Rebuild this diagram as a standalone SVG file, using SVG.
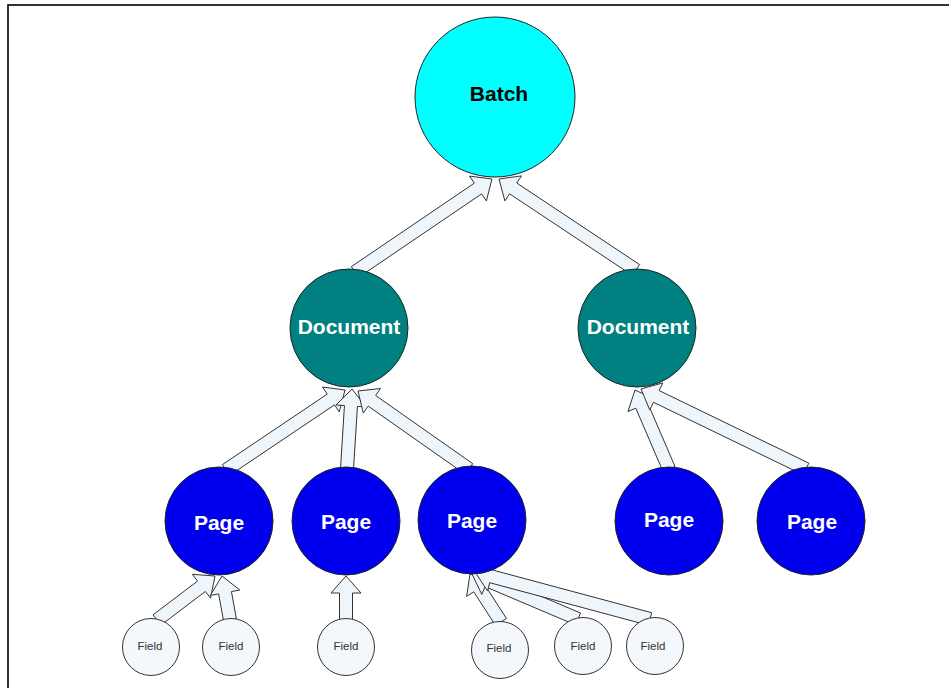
<svg xmlns="http://www.w3.org/2000/svg" width="949" height="688" viewBox="0 0 949 688">
<style>
.frame{fill:#fff;stroke:#000;stroke-width:1.6}
.arr{fill:#eef5fb;stroke:#333;stroke-width:1}
.n{stroke:#222;stroke-width:1}
.batch{fill:#00ffff}
.doc{fill:#008080}
.page{fill:#0000ee}
.field{fill:#f4f7fb;stroke:#333;stroke-width:1}
.t{font-family:"Liberation Sans",Arial,sans-serif;font-weight:bold;text-anchor:middle;dominant-baseline:central}
.tw{fill:#fff;font-size:21px}
.tb{fill:#000;font-size:21px}
.tf{font-family:"Liberation Sans",Arial,sans-serif;font-size:11.5px;fill:#333;text-anchor:middle;dominant-baseline:central}
</style>
<rect class="frame" x="8" y="5" width="960" height="700"/>
<g id="connectors">
<polygon class="arr" points="358.65,277.38 481.58,193.93 486.36,200.96 492,179 469.50,176.14 474.28,183.17 351.35,266.62"/>
<polygon class="arr" points="639.60,264.59 516.76,183.00 521.46,175.91 499,179 504.86,200.91 509.56,193.82 632.40,275.41"/>
<polygon class="arr" points="229.63,475.39 334.52,404.87 339.26,411.93 345,390 322.52,387.03 327.26,394.09 222.37,464.61"/>
<polygon class="arr" points="353.49,469.41 357.43,406.38 365.91,406.91 352,389 335.97,405.03 344.45,405.56 340.51,468.59"/>
<polygon class="arr" points="472.74,463.68 375.65,395.46 380.54,388.51 358,391 363.28,413.05 368.17,406.10 465.26,474.32"/>
<polygon class="arr" points="674.97,466.43 647.69,403.04 655.50,399.68 635,390 627.94,411.54 635.75,408.18 663.03,471.57"/>
<polygon class="arr" points="808.84,463.15 659.14,390.57 662.84,382.92 641,389 649.76,409.92 653.46,402.27 803.16,474.85"/>
<polygon class="arr" points="160.93,625.18 205.39,591.45 210.53,598.22 215,576 192.39,574.32 197.53,581.09 153.07,614.82"/>
<polygon class="arr" points="236.40,618.84 231.44,591.57 239.80,590.05 222,576 210.28,595.41 218.64,593.89 223.60,621.16"/>
<polygon class="arr" points="352.5,620 352.5,593 361,593 346,576 331,593 339.5,593 339.5,620"/>
<polygon class="arr" points="506.46,618.47 484.68,584.75 491.82,580.14 470,574 466.62,596.42 473.76,591.81 495.54,625.53"/>
<polygon class="arr" points="580.54,613.02 490.19,574.66 493.51,566.83 472,574 481.79,594.45 485.11,586.62 575.46,624.98"/>
<polygon class="arr" points="651.69,612.72 493.11,570.13 495.31,561.92 475,572 487.53,590.90 489.73,582.69 648.31,625.28"/>
</g>
<g id="batch"><circle class="n batch" cx="495" cy="97" r="80"/><text class="t tb" x="499" y="93">Batch</text></g>
<g id="doc1"><circle class="n doc" cx="349" cy="328" r="59"/><text class="t tw" x="349" y="326">Document</text></g>
<g id="doc2"><circle class="n doc" cx="637" cy="328" r="59"/><text class="t tw" x="638" y="326">Document</text></g>
<g id="page1"><circle class="n page" cx="219" cy="521" r="54"/><text class="t tw" x="219" y="522">Page</text></g>
<g id="page2"><circle class="n page" cx="346" cy="521" r="54"/><text class="t tw" x="346" y="521">Page</text></g>
<g id="page3"><circle class="n page" cx="472" cy="520" r="54"/><text class="t tw" x="472" y="520">Page</text></g>
<g id="page4"><circle class="n page" cx="669" cy="521" r="54"/><text class="t tw" x="669" y="519">Page</text></g>
<g id="page5"><circle class="n page" cx="811" cy="521" r="54"/><text class="t tw" x="812" y="521">Page</text></g>
<g id="field1"><circle class="field" cx="151" cy="647" r="28.5"/><text class="tf" x="150" y="646">Field</text></g>
<g id="field2"><circle class="field" cx="231" cy="647" r="28.5"/><text class="tf" x="231" y="646">Field</text></g>
<g id="field3"><circle class="field" cx="346" cy="647" r="28.5"/><text class="tf" x="346" y="646">Field</text></g>
<g id="field4"><circle class="field" cx="500" cy="650" r="28.5"/><text class="tf" x="499" y="648">Field</text></g>
<g id="field5"><circle class="field" cx="583" cy="646" r="28.5"/><text class="tf" x="583" y="646">Field</text></g>
<g id="field6"><circle class="field" cx="655" cy="646" r="28.5"/><text class="tf" x="653" y="646">Field</text></g>
</svg>
